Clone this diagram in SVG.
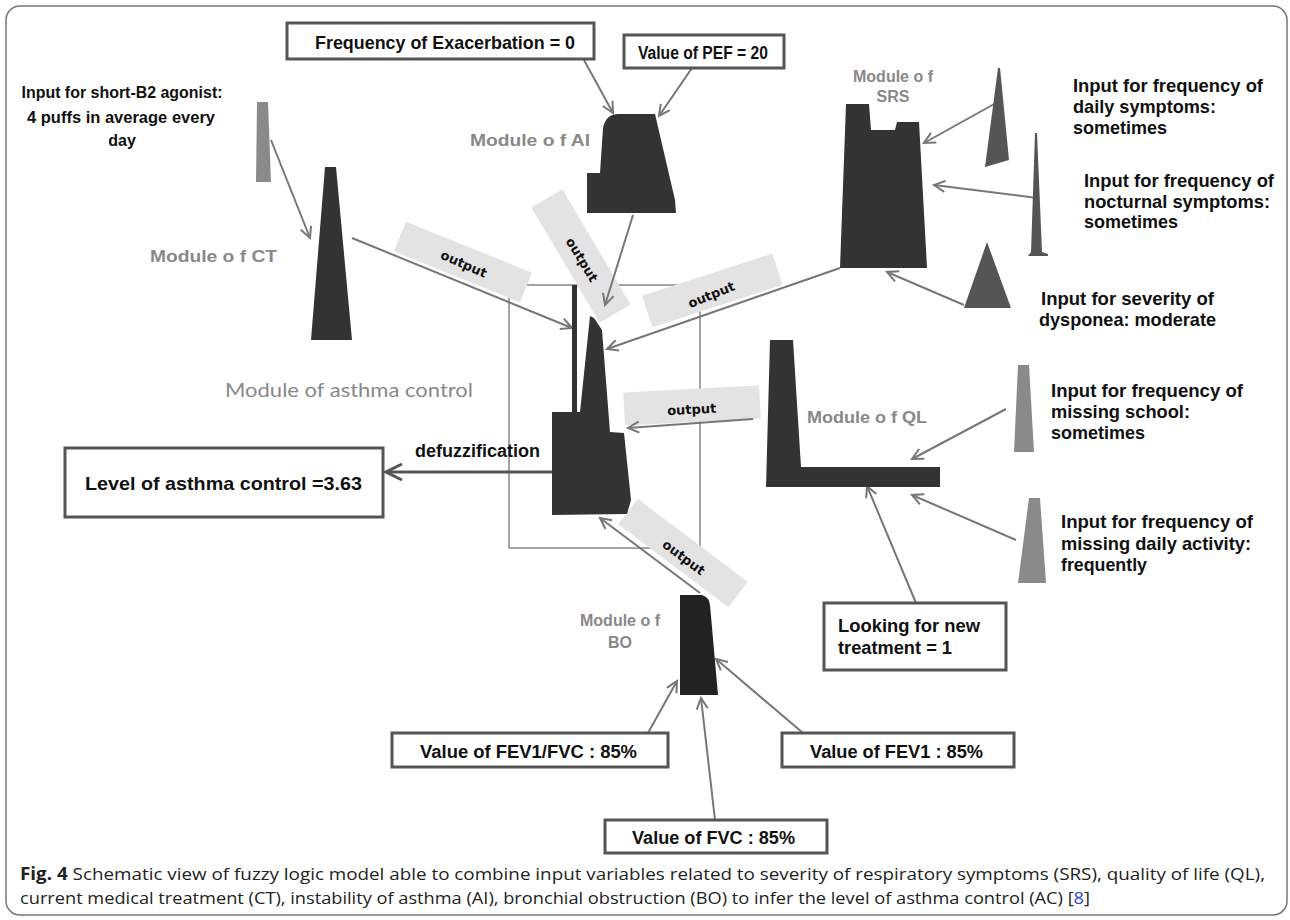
<svg xmlns="http://www.w3.org/2000/svg" width="1290" height="920" viewBox="0 0 1290 920">
<defs>
<marker id="ah" viewBox="0 0 14 14" refX="12" refY="7" markerWidth="14" markerHeight="14" markerUnits="userSpaceOnUse" orient="auto"><path d="M1,1.5 L12,7 L1,12.5" fill="none" stroke="#777" stroke-width="2"/></marker>
<marker id="ahd" viewBox="0 0 20 20" refX="18" refY="10" markerWidth="20" markerHeight="20" markerUnits="userSpaceOnUse" orient="auto"><path d="M2,2 L18,10 L2,18" fill="none" stroke="#555" stroke-width="3"/></marker>
</defs>
<style>
.frame{fill:#fff;stroke:#777;stroke-width:1.5}
.box{fill:#fff;stroke:#555;stroke-width:3}
.bt{font-family:"Liberation Sans",Arial,sans-serif;font-weight:bold;fill:#111}
.mod{font-family:"Liberation Sans",Arial,sans-serif;font-weight:bold;fill:#888;font-size:16px}
.in{font-family:"Liberation Sans",Arial,sans-serif;font-weight:bold;fill:#111;font-size:18.5px}
.band{fill:#e3e3e3}
.out{font-family:"DejaVu Sans",sans-serif;font-weight:bold;font-size:13px;fill:#111;text-anchor:middle}
.dark{fill:#333}
.inp{fill:#8a8a8a}
.conn{fill:none;stroke:#777;stroke-width:2;marker-end:url(#ah)}
.cap{font-family:"Open Sans",sans-serif;font-size:17px;fill:#222}
</style>
<rect class="frame" x="6" y="6" width="1281" height="909" rx="14"/>

<g id="ac-rect"><rect x="509" y="285" width="191" height="263" fill="none" stroke="#888" stroke-width="1.5"/></g>

<g id="bands">
<g transform="translate(463,262) rotate(22)"><rect class="band" x="-68" y="-16" width="136" height="32"/></g>
<g transform="translate(581,256) rotate(59.4)"><rect class="band" x="-67" y="-18" width="134" height="36"/></g>
<g transform="translate(712,291) rotate(-18)"><rect class="band" x="-68" y="-17" width="137" height="33"/></g>
<g transform="translate(692,405) rotate(-3)"><rect class="band" x="-68" y="-16" width="136" height="33"/></g>
<g transform="translate(683,553) rotate(37)"><rect class="band" x="-69" y="-16" width="138" height="32"/></g>
</g>

<g id="connectors">
<line class="conn" x1="271" y1="140" x2="310" y2="238"/>
<line class="conn" x1="584" y1="60" x2="613" y2="113"/>
<line class="conn" x1="692" y1="68" x2="659" y2="116"/>
<line class="conn" x1="352" y1="238" x2="572" y2="328"/>
<line class="conn" x1="633" y1="215" x2="605" y2="305"/>
<line class="conn" x1="840" y1="268" x2="607" y2="349"/>
<line class="conn" x1="753" y1="419" x2="628" y2="428"/>
<line class="conn" x1="700" y1="593" x2="600" y2="518"/>
<line class="conn" x1="996" y1="103" x2="924" y2="143"/>
<line class="conn" x1="1037" y1="198" x2="934" y2="185"/>
<line class="conn" x1="964" y1="305" x2="887" y2="272"/>
<line class="conn" x1="1006" y1="409" x2="912" y2="459"/>
<line class="conn" x1="1016" y1="540" x2="912" y2="495"/>
<line class="conn" x1="916" y1="603" x2="867" y2="486"/>
<line class="conn" x1="648" y1="733" x2="677" y2="681"/>
<line class="conn" x1="715" y1="820" x2="701" y2="698"/>
<line class="conn" x1="803" y1="733" x2="716" y2="659"/>
<line x1="552" y1="472" x2="386" y2="472" stroke="#555" stroke-width="3" marker-end="url(#ahd)"/>
</g>

<g id="band-labels">
<text class="out" transform="translate(462,268) rotate(24)">output</text>
<text class="out" transform="translate(578,262) rotate(59)">output</text>
<text class="out" transform="translate(713,299) rotate(-22)">output</text>
<text class="out" transform="translate(692,414) rotate(-3)">output</text>
<text class="out" transform="translate(681,561) rotate(37)">output</text>
</g>

<g id="ac">
<path class="dark" d="M552,515 L552,412 L572,412 L572,285 L577,285 L577,412 L580,412 L590,316 L594,318 L602,330 L610,432 L624,433 L631,500 L627,514 Z" fill="#444"/>
<text x="225" y="397" font-family="Lato,'Open Sans',sans-serif" font-size="20" fill="#888" textLength="248" lengthAdjust="spacingAndGlyphs">Module of asthma control</text>
<text class="bt" x="415" y="457" font-size="18" textLength="125" lengthAdjust="spacingAndGlyphs">defuzzification</text>
</g>

<g id="level">
<rect class="box" x="65" y="448" width="318" height="69"/>
<text class="bt" x="85" y="490" font-size="19" textLength="277" lengthAdjust="spacingAndGlyphs">Level of asthma control =3.63</text>
</g>

<g id="ct">
<path class="inp" d="M257,102 L268,102 L271,182 L256,182 Z"/>
<path class="dark" d="M325,167 L336,167 L352,340 L311,340 Z"/>
<text class="mod" x="150" y="262" textLength="127" lengthAdjust="spacingAndGlyphs">Module o f  CT</text>
<text class="bt" font-size="16" text-anchor="middle"><tspan x="122" y="98" textLength="201" lengthAdjust="spacingAndGlyphs">Input for short-B2 agonist:</tspan><tspan x="121" y="123" textLength="188" lengthAdjust="spacingAndGlyphs">4 puffs in average every</tspan><tspan x="122" y="146">day</tspan></text>
</g>

<g id="ai">
<rect class="box" x="287" y="23" width="307" height="36"/>
<text class="bt" x="315" y="49" font-size="19" textLength="260" lengthAdjust="spacingAndGlyphs">Frequency of Exacerbation = 0</text>
<rect class="box" x="624" y="35" width="160" height="33"/>
<text class="bt" x="638" y="59" font-size="18" textLength="130" lengthAdjust="spacingAndGlyphs">Value of PEF = 20</text>
<path class="dark" d="M587,213 L587,173 L600,173 L603,128 Q606,114 618,114 L655,114 L675,200 L676,213 Z"/>
<text class="mod" x="470" y="146" textLength="120" lengthAdjust="spacingAndGlyphs">Module o f  AI</text>
</g>

<g id="srs">
<path class="dark" d="M840,268 L846,104 L869,104 L871,130 L895,130 L897,122 L919,122 L927,268 Z"/>
<text class="mod" text-anchor="middle"><tspan x="893" y="82">Module o f</tspan><tspan x="893" y="102">SRS</tspan></text>
<path fill="#555" d="M998,68 L1000,68 L1009,160 L985,167 Z"/>
<path fill="#555" d="M1035,133 L1037,133 L1042,252 L1048,254 L1048,256 L1028,256 L1031,252 Z"/>
<path fill="#555" d="M987,242 L1011,308 L964,308 Z"/>
<text class="in"><tspan x="1073" y="92" textLength="190" lengthAdjust="spacingAndGlyphs">Input for frequency of</tspan><tspan x="1073" y="113" textLength="143" lengthAdjust="spacingAndGlyphs">daily symptoms:</tspan><tspan x="1073" y="134" textLength="94" lengthAdjust="spacingAndGlyphs">sometimes</tspan></text>
<text class="in"><tspan x="1084" y="187" textLength="190" lengthAdjust="spacingAndGlyphs">Input for frequency of</tspan><tspan x="1084" y="208" textLength="186" lengthAdjust="spacingAndGlyphs">nocturnal symptoms:</tspan><tspan x="1084" y="228" textLength="94" lengthAdjust="spacingAndGlyphs">sometimes</tspan></text>
<text class="in"><tspan x="1041" y="305" textLength="173" lengthAdjust="spacingAndGlyphs">Input for severity of</tspan><tspan x="1039" y="326" textLength="177" lengthAdjust="spacingAndGlyphs">dysponea: moderate</tspan></text>
</g>

<g id="ql">
<path class="dark" d="M766,487 L770,340 L793,340 L801,467 L940,467 L940,487 Z"/>
<text class="mod" x="807" y="423" textLength="120" lengthAdjust="spacingAndGlyphs">Module o f QL</text>
<path class="inp" d="M1018,365 L1029,365 L1034,452 L1014,452 Z"/>
<path class="inp" d="M1029,498 L1040,498 L1046,583 L1018,583 Z"/>
<text class="in"><tspan x="1051" y="397" textLength="192" lengthAdjust="spacingAndGlyphs">Input for frequency of</tspan><tspan x="1051" y="418" textLength="139" lengthAdjust="spacingAndGlyphs">missing school:</tspan><tspan x="1051" y="439" textLength="94" lengthAdjust="spacingAndGlyphs">sometimes</tspan></text>
<text class="in"><tspan x="1061" y="528" textLength="192" lengthAdjust="spacingAndGlyphs">Input for frequency of</tspan><tspan x="1061" y="550" textLength="190" lengthAdjust="spacingAndGlyphs">missing daily activity:</tspan><tspan x="1061" y="571" textLength="86" lengthAdjust="spacingAndGlyphs">frequently</tspan></text>
<rect class="box" x="824" y="603" width="182" height="67"/>
<text class="bt" font-size="18"><tspan x="838" y="632" textLength="142" lengthAdjust="spacingAndGlyphs">Looking for new</tspan><tspan x="838" y="654" textLength="114" lengthAdjust="spacingAndGlyphs">treatment = 1</tspan></text>
</g>

<g id="bo">
<path fill="#222" d="M680,695 L680,595 L702,595 Q709,597 710,605 L718,695 Z"/>
<text class="mod" text-anchor="middle"><tspan x="620" y="626">Module o f</tspan><tspan x="620" y="648">BO</tspan></text>
<rect class="box" x="392" y="733" width="276" height="34"/>
<text class="bt" x="420" y="758" font-size="18" textLength="217" lengthAdjust="spacingAndGlyphs">Value of FEV1/FVC : 85%</text>
<rect class="box" x="605" y="820" width="222" height="33"/>
<text class="bt" x="632" y="844" font-size="18" textLength="163" lengthAdjust="spacingAndGlyphs">Value of FVC : 85%</text>
<rect class="box" x="782" y="733" width="232" height="34"/>
<text class="bt" x="810" y="758" font-size="18" textLength="173" lengthAdjust="spacingAndGlyphs">Value of FEV1 : 85%</text>
</g>

<g id="caption">
<text class="cap" x="20" y="880" textLength="1245" lengthAdjust="spacingAndGlyphs"><tspan font-weight="bold">Fig. 4</tspan>  Schematic view of fuzzy logic model able to combine input variables related to severity of respiratory symptoms (SRS), quality of life (QL),</text>
<text class="cap" x="20" y="904" textLength="1070" lengthAdjust="spacingAndGlyphs">current medical treatment (CT), instability of asthma (AI), bronchial obstruction (BO) to infer the level of asthma control (AC) [<tspan fill="#3344dd">8</tspan>]</text>
</g>
</svg>
